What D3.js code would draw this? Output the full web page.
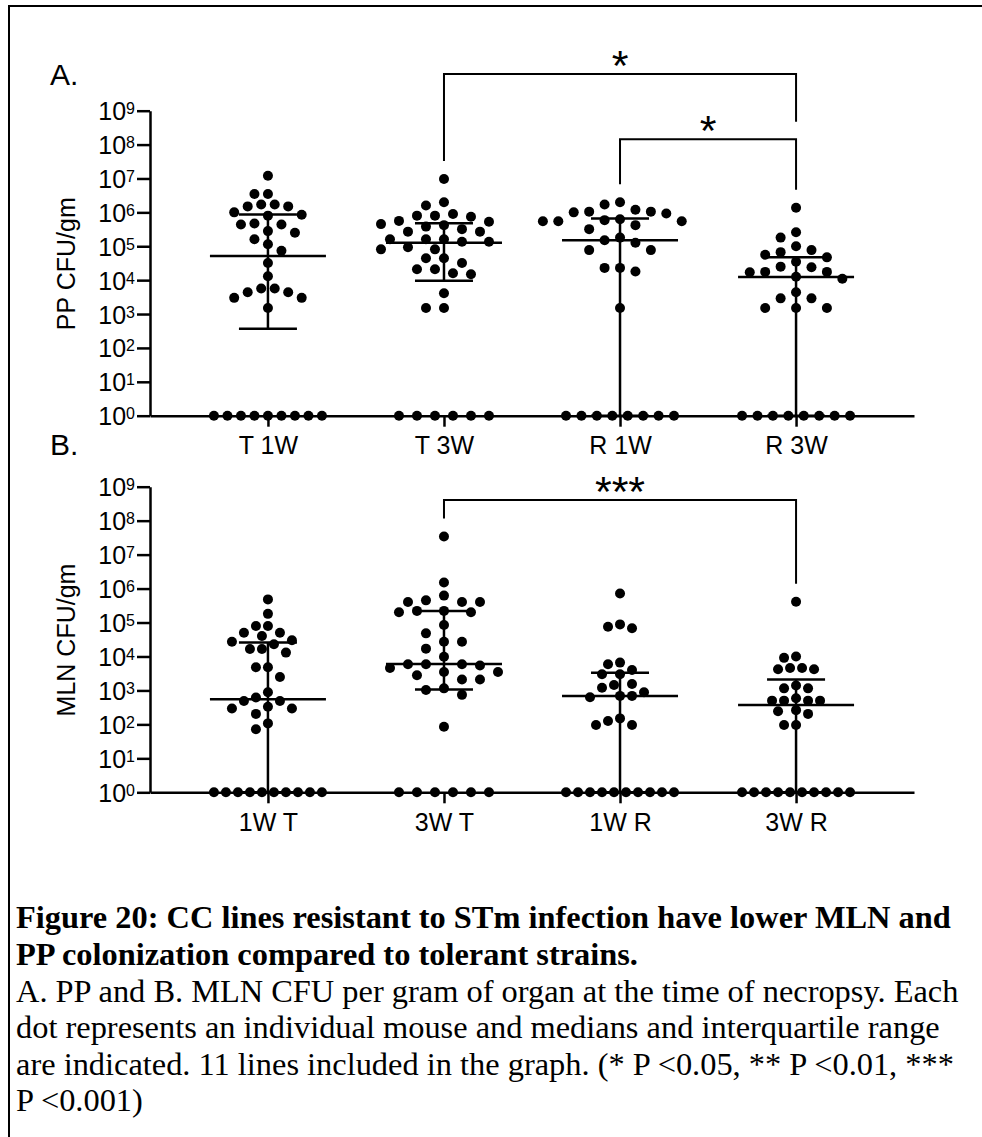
<!DOCTYPE html>
<html>
<head>
<meta charset="utf-8">
<script src="https://cdn.jsdelivr.net/npm/d3@7"></script>
<style>
body { margin: 0; background: #fff; }
svg { display: block; }
</style>
</head>
<body>
<svg id="fig" width="982" height="1137"></svg>
<script>
// categories
var ppGroups = ["T 1W", "T 3W", "R 1W", "R 3W"]
var mlnGroups = ["1W T", "3W T", "1W R", "3W R"]
var yTicks = [1, 1e1, 1e2, 1e3, 1e4, 1e5, 1e6, 1e7, 1e8, 1e9]

// PP CFU/gm, one value per mouse (1 = nothing recovered, sits on the axis)
var ppT1W = [1, 1, 1, 1, 1, 1, 1, 1, 1,
    1.2e7, 3.5e6, 3.5e6, 1.7e6, 1.5e6, 1.5e6, 1.7e6, 1.0e6, 8.5e5, 8e5, 4.4e5, 4.4e5, 4.7e5, 2.8e5,
    2.5e5, 1.6e5, 1.15e5, 7.4e4, 3.2e4, 1.3e4, 5.7e3, 5.7e3, 4.4e3, 4.4e3, 3.0e3, 3.0e3, 1.5e3]
var ppT3W = [1, 1, 1, 1, 1, 1,
    9.6e6, 2.0e6, 1.6e6, 9e5, 8e5, 8e5, 7.4e5, 5.3e5, 5.6e5, 4.2e5, 3.8e5, 4.5e5, 3.2e5, 2.7e5, 2.7e5,
    1.6e5, 1.6e5, 1.6e5, 1.35e5, 1.35e5, 8.1e4, 9.3e4, 8.1e4, 4.4e4, 4.4e4, 3.2e4, 2.1e4, 2.1e4, 1.5e4,
    1.6e4, 4.1e3, 1.5e3, 1.5e3]
var ppR1W = [1, 1, 1, 1, 1, 1, 1, 1,
    2.0e6, 1.7e6, 9.3e5, 1.2e6, 1.05e6, 1.05e6, 1.0e6, 5.9e5, 5.5e5, 6.3e5, 5.5e5, 5.5e5, 4.2e5, 3.2e5,
    1.8e5, 1.5e5, 1.27e5, 7.7e4, 7.7e4, 2.3e4, 2.3e4, 1.8e4, 1.5e3]
var ppR3W = [1, 1, 1, 1, 1, 1, 1, 1,
    1.37e6, 2.6e5, 1.8e5, 1.0e5, 7.7e4, 6.7e4, 5.6e4, 4.7e4, 3.5e4, 2.4e4, 2.5e4, 1.7e4, 1.75e4, 1.75e4,
    1.26e4, 1.1e4, 4.4e3, 2.9e3, 2.9e3, 1.5e3, 1.5e3, 1.5e3]
var ppMedian = [5.2e4, 1.27e5, 1.5e5, 1.23e4]
var ppQ1 = [370, 9.6e3, 1, 1]
var ppQ3 = [8.7e5, 4.8e5, 6.6e5, 4.7e4]

// MLN CFU/gm
var mlnT1W = [1, 1, 1, 1, 1, 1, 1, 1, 1, 1,
    4.8e5, 1.8e5, 7.9e4, 7.9e4, 4e4, 5e4, 5e4, 3e4, 2.7e4, 1.66e4, 1.66e4, 1.3e4, 2.3e4, 4.8e3, 4.8e3,
    2.5e3, 880, 490, 490, 620, 295, 295, 330, 204, 107, 72]
var mlnT3W = [1, 1, 1, 1, 1, 1,
    3.4e7, 1.5e6, 6.2e5, 4e5, 4e5, 4e5, 4.5e5, 2.2e5, 2.2e5, 2e5, 2e5, 8.5e4, 4.8e4, 2.7e4, 2.7e4,
    1.7e4, 9.8e3, 5.9e3, 5.9e3, 5.9e3, 5.4e3, 4.6e3, 3.5e3, 3.5e3, 2.1e3, 2.1e3, 2.8e3, 1.03e3, 1.15e3,
    740, 85]
var mlnR1W = [1, 1, 1, 1, 1, 1, 1, 1, 1, 1,
    7.2e5, 7.5e4, 6.8e4, 8.8e4, 6.6e3, 5.9e3, 4e3, 3e3, 3e3, 1.55e3, 1.2e3, 1.45e3, 880, 690, 690,
    630, 150, 126, 96, 96]
var mlnR3W = [1, 1, 1, 1, 1, 1, 1, 1, 1, 1,
    4.1e5, 1.0e4, 9.1e3, 4.6e3, 4.6e3, 4.2e3, 4.2e3, 1.15e3, 1.15e3, 1.4e3, 500, 500, 500, 500, 590,
    263, 204, 245, 96, 96]
var mlnMedian = [550, 6e3, 690, 370]
var mlnQ1 = [1, 1.07e3, 1, 1]
var mlnQ3 = [2.6e4, 2.2e5, 3.3e3, 2.1e3]

// significance brackets: from, to, stars
var ppSig = [["T 3W", "R 3W", "*"], ["R 1W", "R 3W", "*"]]
var mlnSig = [["3W T", "3W R", "***"]]

var captionBold = [
    "Figure 20: CC lines resistant to STm infection have lower MLN and",
    "PP colonization compared to tolerant strains."
]
var captionText = [
    "A. PP and B. MLN CFU per gram of organ at the time of necropsy. Each",
    "dot represents an individual mouse and medians and interquartile range",
    "are indicated. 11 lines included in the graph. (* P <0.05, ** P <0.01, ***",
    "P <0.001)"
]

var sans = "'Liberation Sans', Arial, Helvetica, sans-serif"
var serif = "'Liberation Serif', 'Times New Roman', Times, serif"
var svg = d3.select("#fig")

// frame
svg.append("rect")
    .attr("x", 9).attr("y", 6)
    .attr("width", 2000).attr("height", 2000)
    .attr("fill", "none").attr("stroke", "#000").attr("stroke-width", 2)

var panels = [
    {
        label: "A.", labelY: 85, title: "PP CFU/gm", groups: ppGroups,
        data: [ppT1W, ppT3W, ppR1W, ppR3W], med: ppMedian, q1: ppQ1, q3: ppQ3,
        sig: ppSig, sigTop: [74, 139.3], top: 110.7, bottom: 415.7
    },
    {
        label: "B.", labelY: 455, title: "MLN CFU/gm", groups: mlnGroups,
        data: [mlnT1W, mlnT3W, mlnR1W, mlnR3W], med: mlnMedian, q1: mlnQ1, q3: mlnQ3,
        sig: mlnSig, sigTop: [500], top: 486.7, bottom: 792.3
    }
]

var left = 150, right = 914, r = 5

// prism-like column scatter: zeros in a centred row, the rest swarmed on half columns
function swarm(vals, y, cx) {
    var zeros = vals.filter(v => v <= 1)
    var rest = vals.filter(v => v > 1).sort((a, b) => b - a)
    var n0 = zeros.length
    var step = Math.min(18, 108 / Math.max(1, n0 - 1))
    var gap = Math.min(step - 0.5, 12.5)
    var pts = zeros.map((v, i) => ({ x: cx + (i - (n0 - 1) / 2) * step, y: y(v) }))
    var placed = []
    rest.forEach(function (v) {
        var py = y(v)
        for (var k = 0; k < 60; k++) {
            var off = (k % 2 ? -1 : 1) * Math.ceil(k / 2) * step / 2
            var px = cx + off
            var hit = placed.some(p => (p.x - px) * (p.x - px) + (p.y - py) * (p.y - py) < gap * gap)
            if (!hit) { placed.push({ x: px, y: py }); break }
        }
    })
    return pts.concat(placed)
}

panels.forEach(function (p) {
    var y = d3.scaleLog().domain([1, 1e9]).range([p.bottom, p.top])
    var x = d3.scalePoint().domain(p.groups).range([left, right]).padding(0.67)
    var g = svg.append("g")

    g.append("text")
        .attr("x", 50).attr("y", p.labelY)
        .attr("font-family", sans).attr("font-size", 30)
        .text(p.label)

    g.append("text")
        .attr("transform", "translate(75," + ((p.top + p.bottom) / 2 + 0.5) + ") rotate(-90)")
        .attr("text-anchor", "middle")
        .attr("font-family", sans).attr("font-size", 25)
        .text(p.title)

    // y axis
    var ya = g.append("g")
        .attr("transform", "translate(" + left + ",0)")
        .call(d3.axisLeft(y).tickValues(yTicks).tickSize(13).tickSizeOuter(0).tickFormat(""))
    ya.selectAll("path, line").attr("stroke-width", 2.5)
    ya.selectAll(".tick text").remove()
    var lab = ya.selectAll(".tick").append("text")
        .attr("x", -15).attr("y", 9)
        .attr("text-anchor", "end")
        .attr("fill", "#000")
        .attr("font-family", sans)
    lab.append("tspan").attr("font-size", 25).text("10")
    lab.append("tspan").attr("font-size", 16).attr("dy", -6)
        .text(d => Math.round(Math.log10(d)))

    // x axis
    var xa = g.append("g")
        .attr("transform", "translate(0," + p.bottom + ")")
        .call(d3.axisBottom(x).tickSize(11).tickSizeOuter(0))
    xa.selectAll("path, line").attr("stroke-width", 2.5)
    xa.selectAll(".tick text")
        .attr("y", 38.3).attr("dy", null)
        .attr("fill", "#000")
        .attr("font-family", sans).attr("font-size", 25)

    // dots
    p.groups.forEach(function (name, i) {
        var pts = swarm(p.data[i], y, x(name))
        g.append("g").selectAll("circle")
            .data(pts)
            .enter().append("circle")
            .attr("cx", d => d.x).attr("cy", d => d.y).attr("r", r)
            .attr("fill", "#000")
    })

    // median and interquartile range
    var bars = g.append("g").attr("stroke", "#000").attr("stroke-width", 2.5)
    p.groups.forEach(function (name, i) {
        var cx = x(name)
        bars.append("line").attr("x1", cx).attr("x2", cx).attr("y1", y(p.q1[i])).attr("y2", y(p.q3[i]))
        bars.append("line").attr("x1", cx - 29).attr("x2", cx + 29).attr("y1", y(p.q1[i])).attr("y2", y(p.q1[i]))
        bars.append("line").attr("x1", cx - 29).attr("x2", cx + 29).attr("y1", y(p.q3[i])).attr("y2", y(p.q3[i]))
        bars.append("line").attr("x1", cx - 58).attr("x2", cx + 58).attr("y1", y(p.med[i])).attr("y2", y(p.med[i]))
    })

    // significance brackets
    function legEnd(k, name) {
        // nested bracket below on the same group -> stop above it
        for (var j = k + 1; j < p.sig.length; j++) {
            if (p.sig[j][0] == name || p.sig[j][1] == name) return p.sigTop[j] - 17.6
        }
        var gi = p.groups.indexOf(name)
        return y(d3.max(p.data[gi])) - 18
    }
    p.sig.forEach(function (s, k) {
        var top = p.sigTop[k]
        var x1 = x(s[0]), x2 = x(s[1])
        g.append("path")
            .attr("d", "M" + x1 + "," + legEnd(k, s[0]) + "V" + top + "H" + x2 + "V" + legEnd(k, s[1]))
            .attr("fill", "none").attr("stroke", "#000").attr("stroke-width", 2)
        g.append("text")
            .attr("x", (x1 + x2) / 2).attr("y", top + 6)
            .attr("text-anchor", "middle")
            .attr("font-family", sans).attr("font-size", 43)
            .text(s[2])
    })
})

// caption
var cap = svg.append("g").attr("font-family", serif).attr("font-size", 32.4)
captionBold.forEach(function (t, i) {
    cap.append("text").attr("x", 16).attr("y", 928.3 + i * 36.7)
        .attr("font-weight", "bold").text(t)
})
captionText.forEach(function (t, i) {
    cap.append("text").attr("x", 16).attr("y", 1001.7 + i * 36.4).text(t)
})
</script>
</body>
</html>
